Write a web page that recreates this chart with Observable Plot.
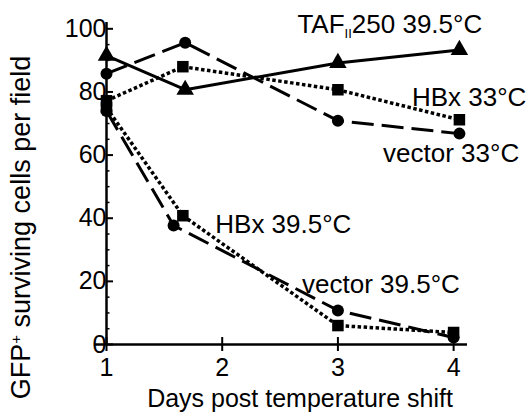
<!DOCTYPE html>
<html><head><meta charset="utf-8">
<script src="https://cdn.jsdelivr.net/npm/d3@7"></script>
<script src="https://cdn.jsdelivr.net/npm/@observablehq/plot@0.6"></script>
<style>body{margin:0;background:#fff} svg{display:block}</style>
</head><body><div id="chart"></div>
<script>
// Data
const tafDays = [1, 1.68, 3, 4.05];
const tafValues = [91.5, 80.7, 89.2, 93.3];
const vec33Days = [1, 1.68, 3, 4.05];
const vec33Values = [85.8, 95.6, 70.9, 66.8];
const hbx33Days = [1, 1.66, 3, 4.05];
const hbx33Values = [77.2, 88, 80.7, 71.2];
const hbx39Days = [1, 1.66, 3, 4];
const hbx39Values = [75, 40.8, 6, 3.8];
const vec39Days = [1, 1.58, 3, 4];
const vec39Values = [74, 37.7, 10.8, 2.2];

const xTicks = [1, 2, 3, 4];
const yTicks = [0, 20, 40, 60, 80, 100];
const yMinorTicks = [5,10,15,25,30,35,45,50,55,65,70,75,85,90,95];

const labelTexts = ["TAFII250 39.5°C", "HBx 33°C", "vector 33°C", "HBx 39.5°C", "vector 39.5°C"];
const labelDays = [2.65, 3.64, 3.39, 1.94, 2.69];
const labelValues = [101.3, 78.2, 60.4, 38, 19];

const yTitle = "GFP+ surviving cells per field";
const xTitle = "Days post temperature shift";

const rows = (days, vals) => days.map((d, i) => ({day: d, value: vals[i]}));
const taf = rows(tafDays, tafValues);
const vec33 = rows(vec33Days, vec33Values);
const hbx33 = rows(hbx33Days, hbx33Values);
const hbx39 = rows(hbx39Days, hbx39Values);
const vec39 = rows(vec39Days, vec39Values);
const labels = labelTexts.map((t, i) => ({text: t, day: labelDays[i], value: labelValues[i]}));

const dashLong = "22,8";
const dotted = "3.5,2.5";
const lw = 3;
const lineOpts = {x: "day", y: "value", strokeLinecap: "butt", strokeLinejoin: "miter"};

const chart = Plot.plot({
  width: 528,
  height: 414,
  marginLeft: 106,
  marginRight: 61,
  marginTop: 22,
  marginBottom: 70,
  x: {domain: [1, 4.12]},
  y: {domain: [0, 102]},
  style: {fontFamily: "'Liberation Sans', Arial, Helvetica, sans-serif", background: "#fff", color: "#000", overflow: "visible"},
  marks: [
    Plot.ruleY([0], {x1: 0.905, x2: 4.12, strokeWidth: 2.5}),
    Plot.ruleX([1], {y1: 0, y2: 102, strokeWidth: 2.5}),
    Plot.axisY(yTicks, {anchor: "left", tickSize: -7, tickPadding: 7, tickFormat: d3.format("d"), fontSize: 25, strokeWidth: 2, label: null}),
    Plot.axisY(yMinorTicks, {anchor: "left", tickSize: -3.5, tickFormat: () => "", strokeWidth: 1.5, label: null}),
    Plot.axisX(xTicks, {anchor: "bottom", tickSize: 7, tickPadding: 7, tickFormat: d3.format("d"), fontSize: 25, strokeWidth: 2, label: null}),
    Plot.axisX(xTicks, {anchor: "bottom", tickSize: -7, tickFormat: () => "", strokeWidth: 2, label: null}),
    Plot.line(taf, {...lineOpts, strokeWidth: lw}),
    Plot.line(vec33, {...lineOpts, strokeWidth: lw, strokeDasharray: dashLong}),
    Plot.line(hbx33, {...lineOpts, strokeWidth: lw + 0.5, strokeDasharray: dotted}),
    Plot.line(hbx39, {...lineOpts, strokeWidth: lw + 0.5, strokeDasharray: dotted}),
    Plot.line(vec39, {...lineOpts, strokeWidth: lw, strokeDasharray: dashLong}),
    Plot.dot(taf, {x: "day", y: "value", symbol: "triangle", r: 6.5, fill: "#000"}),
    Plot.dot(vec33, {x: "day", y: "value", symbol: "circle", r: 6, fill: "#000"}),
    Plot.dot(vec39, {x: "day", y: "value", symbol: "circle", r: 6, fill: "#000"}),
    Plot.dot(hbx33, {x: "day", y: "value", symbol: "square", r: 6.5, fill: "#000"}),
    Plot.dot(hbx39, {x: "day", y: "value", symbol: "square", r: 6.5, fill: "#000"}),
    Plot.text(labels, {x: "day", y: "value", text: "text", textAnchor: "start", fontSize: 26, fill: "#000"}),
    Plot.text([yTitle], {frameAnchor: "left", textAnchor: "middle", rotate: -90, dx: -85, dy: 44, fontSize: 27, fill: "#000"}),
    Plot.text([xTitle], {frameAnchor: "bottom", dx: 13, dy: 62, fontSize: 25, fill: "#000"})
  ]
});

// subscript / superscript as real text
const ns = "http://www.w3.org/2000/svg";
function splitText(t, parts) {
  t.textContent = "";
  for (const p of parts) {
    const s = document.createElementNS(ns, "tspan");
    s.textContent = p.text;
    if (p.dy) s.setAttribute("dy", p.dy);
    if (p.size) s.setAttribute("font-size", p.size);
    t.appendChild(s);
  }
}
chart.querySelectorAll("text").forEach(t => {
  if (t.textContent === "TAFII250 39.5°C") {
    splitText(t, [{text: "TAF"}, {text: "II", dy: 5, size: 13}, {text: "250 39.5°C", dy: -5}]);
  } else if (t.textContent === yTitle) {
    splitText(t, [{text: "GFP"}, {text: "+", dy: -9, size: 15}, {text: " surviving cells per field", dy: 9}]);
  }
});
document.getElementById("chart").appendChild(chart);
</script>
</body></html>
